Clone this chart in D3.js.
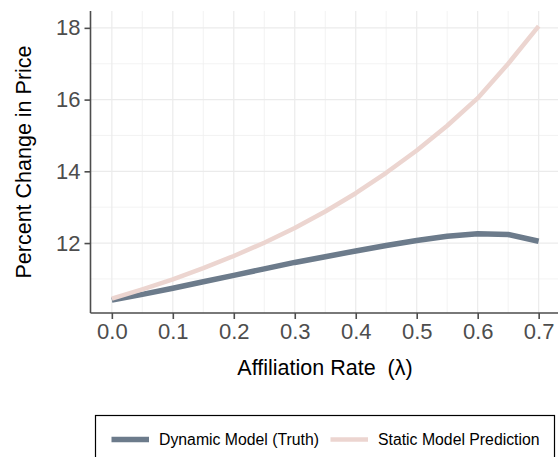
<!DOCTYPE html>
<html><head><meta charset="utf-8">
<script src="https://cdn.jsdelivr.net/npm/d3@7"></script>
<style>html,body{margin:0;padding:0;background:#fff;overflow:hidden}</style>
</head><body>
<script>
const lambda = [0,0.05,0.1,0.15,0.2,0.25,0.3,0.35,0.4,0.45,0.5,0.55,0.6,0.65,0.7];
const dynamicVals = [10.41,10.57,10.74,10.92,11.10,11.28,11.46,11.62,11.78,11.93,12.07,12.19,12.26,12.24,12.05];
const staticVals  = [10.45,10.71,10.99,11.30,11.64,12.01,12.42,12.88,13.39,13.96,14.58,15.27,16.04,17.00,18.05];
const xTicks = [0,0.1,0.2,0.3,0.4,0.5,0.6,0.7];
const xMinor = [0.05,0.15,0.25,0.35,0.45,0.55,0.65];
const yTicks = [12,14,16,18];
const yMinor = [11,13,15,17];
const seriesNames = ["Dynamic Model (Truth)","Static Model Prediction"];
const seriesColors = ["#6c7b8b","#ecd5d0"];

const W=558,H=457;
const svg=d3.select("body").append("svg").attr("width",W).attr("height",H);
const pl=90.5, pr=560, pt=11, pb=313;
const x=d3.scaleLinear().domain([-0.035,0.735]).range([pl,pr]);
const y=d3.scaleLinear().domain([10.05,18.47]).range([pb,pt]);
const font="'Liberation Sans', Arial, sans-serif";

const g=svg.append("g");
// grid
g.selectAll(".xmn").data(xMinor).enter().append("line")
 .attr("x1",d=>x(d)).attr("x2",d=>x(d)).attr("y1",pt).attr("y2",pb)
 .attr("stroke","#f0f0f0").attr("stroke-width",0.8);
g.selectAll(".ymn").data(yMinor).enter().append("line")
 .attr("y1",d=>y(d)).attr("y2",d=>y(d)).attr("x1",pl).attr("x2",pr)
 .attr("stroke","#f0f0f0").attr("stroke-width",0.8);
g.selectAll(".xmj").data(xTicks).enter().append("line")
 .attr("x1",d=>x(d)).attr("x2",d=>x(d)).attr("y1",pt).attr("y2",pb)
 .attr("stroke","#ebebeb").attr("stroke-width",1.2);
g.selectAll(".ymj").data(yTicks).enter().append("line")
 .attr("y1",d=>y(d)).attr("y2",d=>y(d)).attr("x1",pl).attr("x2",pr)
 .attr("stroke","#ebebeb").attr("stroke-width",1.2);

// lines
const line=d3.line().x((d,i)=>x(lambda[i])).y(d=>y(d));
[dynamicVals,staticVals].forEach((vals,k)=>{
  g.append("path").attr("d",line(vals)).attr("fill","none")
   .attr("stroke",seriesColors[k]).attr("stroke-width",k===0?5.5:4.5)
   .attr("stroke-linejoin","round");
});

// axes
const axCol="#4d4d4d";
const xAxis=svg.append("g").attr("transform",`translate(0,${pb})`)
 .call(d3.axisBottom(x).tickValues(xTicks).tickFormat(d3.format(".1f")).tickSizeOuter(0).tickSize(6).tickPadding(4));
const yAxis=svg.append("g").attr("transform",`translate(${pl},0)`)
 .call(d3.axisLeft(y).tickValues(yTicks).tickFormat(d3.format("d")).tickSizeOuter(0).tickSize(6).tickPadding(4));
[xAxis,yAxis].forEach(a=>{
  a.select(".domain").attr("stroke",axCol).attr("stroke-width",1.6);
  a.selectAll(".tick line").attr("stroke",axCol).attr("stroke-width",1.6);
  a.selectAll(".tick text").attr("fill",axCol).attr("font-family",font).attr("font-size",22);
});
xAxis.select(".domain").attr("d",`M${pl},0H${pr}`);
yAxis.select(".domain").attr("d",`M0,${pb}V${pt}`);

svg.append("text").attr("x",325).attr("y",375).attr("text-anchor","middle")
 .attr("font-family",font).attr("font-size",21.5).attr("fill","#000")
 .text("Affiliation Rate  (λ)").attr("xml:space","preserve").style("white-space","pre");
svg.append("text").attr("transform","translate(31,162) rotate(-90)").attr("text-anchor","middle")
 .attr("font-family",font).attr("font-size",21.5).attr("fill","#000")
 .text("Percent Change in Price");

// legend
const lg=svg.append("g");
lg.append("rect").attr("x",95.5).attr("y",415.5).attr("width",459).attr("height",60)
 .attr("fill","#fff").attr("stroke","#000").attr("stroke-width",1.2);
const keyX=[111.5,330.5], txtX=[159,378];
seriesNames.forEach((n,k)=>{
  lg.append("line").attr("x1",keyX[k]).attr("x2",keyX[k]+37.5).attr("y1",439.5).attr("y2",439.5)
   .attr("stroke",seriesColors[k]).attr("stroke-width",k===0?5.5:4.5);
  lg.append("text").attr("x",txtX[k]).attr("y",445).attr("font-family",font)
   .attr("font-size",15.8).attr("fill","#000").text(n);
});
</script>
</body></html>
